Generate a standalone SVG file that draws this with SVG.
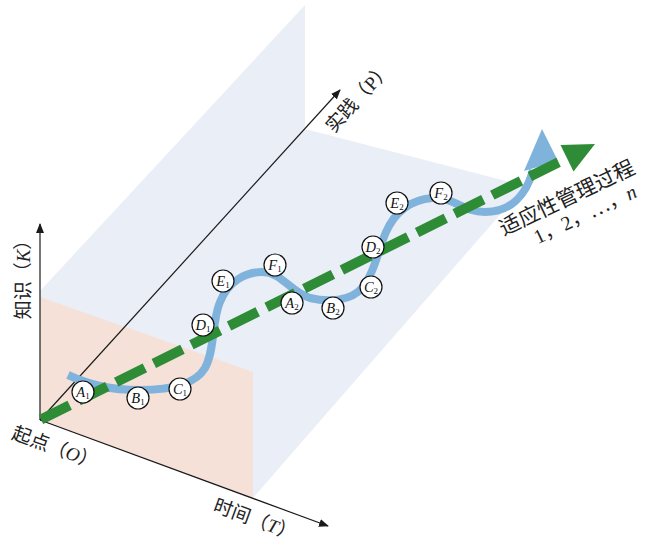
<svg xmlns="http://www.w3.org/2000/svg" width="652" height="558" viewBox="0 0 652 558">
<style>
.zh{font-family:"Noto Sans CJK SC","Noto Sans",sans-serif;fill:#222;}
.it{font-family:"Liberation Serif",serif;font-style:italic;}
.rm{font-family:"Liberation Serif",serif;}
.axis{stroke:#1a1a1a;stroke-width:1.2;fill:none;}
.node circle{fill:#fff;stroke:#111;stroke-width:1.2;}
.node text{font-family:"Liberation Serif",serif;font-size:14.5px;fill:#111;text-anchor:middle;}
.node .sub{font-style:normal;font-size:9px;}
</style>
<defs>
<marker id="ah" markerWidth="10" markerHeight="8" refX="9" refY="4" orient="auto" markerUnits="userSpaceOnUse">
<path d="M0,0 L10,4 L0,8 Z" fill="#1a1a1a"/>
</marker>
</defs>
<rect width="652" height="558" fill="#fff"/>
<g id="planes">
<polygon points="40,291 305,5 305,129 525,186 253,498 40,420" fill="#e9eef7"/>
<polygon points="40,297 253,372 253,498 40,420" fill="#f6e1d8"/>
</g>
<g id="axes">
<line class="axis" x1="40" y1="420" x2="40" y2="224" marker-end="url(#ah)"/>
<line class="axis" x1="40" y1="420" x2="328" y2="526" marker-end="url(#ah)"/>
<line class="axis" x1="40" y1="420" x2="340" y2="90" marker-end="url(#ah)"/>
</g>
<g id="connectors">
<path d="M68,375 C90,385 110,390 140,390 C170,390 195,385 205,368 C215,350 212,320 220,302 C228,282 245,272 262,272 C282,272 290,292 310,298 C330,303 352,300 362,288 C375,272 378,250 386,232 C395,212 410,200 432,198 C455,197 462,212 485,212 C510,212 526,196 533,170" fill="none" stroke="#80b3dc" stroke-width="8" stroke-linecap="butt"/>
<polygon points="542,129 524,171 558,161" fill="#80b3dc"/>
<line x1="41" y1="419.5" x2="567" y2="158" stroke="#2e8b36" stroke-width="10" stroke-dasharray="32 10"/>
<polygon points="595,144 560.5,145 573.5,171.5" fill="#2e8b36"/>
</g>
<g id="nA1" class="node"><circle cx="83" cy="392" r="11"/><text x="83" y="397"><tspan class="it">A</tspan><tspan class="sub" dy="1.5">1</tspan></text></g>
<g id="nB1" class="node"><circle cx="138" cy="398" r="11"/><text x="138" y="403"><tspan class="it">B</tspan><tspan class="sub" dy="1.5">1</tspan></text></g>
<g id="nC1" class="node"><circle cx="180" cy="389" r="11"/><text x="180" y="394"><tspan class="it">C</tspan><tspan class="sub" dy="1.5">1</tspan></text></g>
<g id="nD1" class="node"><circle cx="203" cy="325" r="11"/><text x="203" y="330"><tspan class="it">D</tspan><tspan class="sub" dy="1.5">1</tspan></text></g>
<g id="nE1" class="node"><circle cx="223" cy="281" r="11"/><text x="223" y="286"><tspan class="it">E</tspan><tspan class="sub" dy="1.5">1</tspan></text></g>
<g id="nF1" class="node"><circle cx="275" cy="265" r="11"/><text x="275" y="270"><tspan class="it">F</tspan><tspan class="sub" dy="1.5">1</tspan></text></g>
<g id="nA2" class="node"><circle cx="292" cy="303" r="11"/><text x="292" y="308"><tspan class="it">A</tspan><tspan class="sub" dy="1.5">2</tspan></text></g>
<g id="nB2" class="node"><circle cx="333" cy="308" r="11"/><text x="333" y="313"><tspan class="it">B</tspan><tspan class="sub" dy="1.5">2</tspan></text></g>
<g id="nC2" class="node"><circle cx="371" cy="287" r="11"/><text x="371" y="292"><tspan class="it">C</tspan><tspan class="sub" dy="1.5">2</tspan></text></g>
<g id="nD2" class="node"><circle cx="373" cy="247" r="11"/><text x="373" y="252"><tspan class="it">D</tspan><tspan class="sub" dy="1.5">2</tspan></text></g>
<g id="nE2" class="node"><circle cx="397" cy="203" r="11"/><text x="397" y="208"><tspan class="it">E</tspan><tspan class="sub" dy="1.5">2</tspan></text></g>
<g id="nF2" class="node"><circle cx="441" cy="193" r="11"/><text x="441" y="198"><tspan class="it">F</tspan><tspan class="sub" dy="1.5">2</tspan></text></g>
<g id="labels">
<text class="zh" font-size="19" text-anchor="middle" transform="translate(23,275) rotate(-90)" y="7">知识（<tspan class="it">K</tspan>）</text>
<text class="zh" font-size="19" text-anchor="middle" transform="translate(55,448) rotate(20)" y="6">起点（<tspan class="it">O</tspan>）</text>
<text class="zh" font-size="19" text-anchor="middle" transform="translate(255,520) rotate(20)" y="6">时间（<tspan class="it">T</tspan>）</text>
<text class="zh" font-size="19" text-anchor="middle" transform="translate(358,97) rotate(-47.7)" y="7">实践（<tspan class="rm">P</tspan>）</text>
<text class="zh" font-size="21" text-anchor="middle" transform="translate(567,198) rotate(-25.5)" y="7">适应性管理过程</text>
<text class="zh" font-size="20" text-anchor="middle" transform="translate(585,214) rotate(-25.5)" y="7"><tspan class="rm">1</tspan>，<tspan class="rm">2</tspan>，…，<tspan class="it">n</tspan></text>
</g>
</svg>
